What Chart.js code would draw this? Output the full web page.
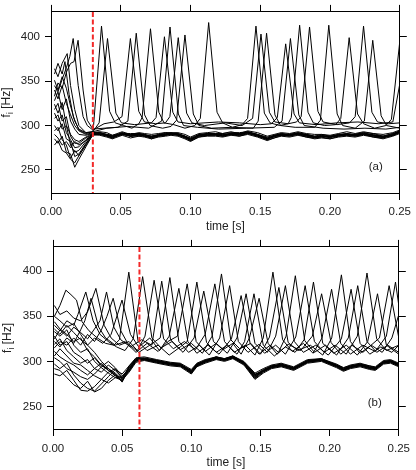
<!DOCTYPE html>
<html>
<head>
<meta charset="utf-8">
<script src="https://cdn.jsdelivr.net/npm/chart.js@4.4.1/dist/chart.umd.min.js"></script>
<style>
  body { margin: 0; background: #fff; }
  canvas { display: block; }
</style>
</head>
<body>
<canvas id="chartA" width="416" height="235"></canvas>
<canvas id="chartB" width="416" height="235"></canvas>
<script>
// time in ms on the x axis, labelled in seconds
const xTicks = [0, 50, 100, 150, 200, 250];
const xTickLabels = ['0.00', '0.05', '0.10', '0.15', '0.20', '0.25'];
const yTicks = [250, 300, 350, 400];
const syncTimeA = 30;
const syncTimeB = 62.5;

// ---- panel (a): traces that lock into the common band, on a shared time grid
const tA = [2.5, 5, 8, 11, 14, 17, 20, 25, 30, 35, 40, 44, 51, 57, 63, 67, 72, 77, 82, 86, 91, 96, 100,
  106, 112, 118, 123, 129, 135, 141, 148, 155, 160, 165, 171, 177, 183, 189, 194, 200, 206, 212, 218, 224, 231, 238, 245, 250];
const a_b1 = [340,330,345,325,312,300,294,290,292, 293,292,289,293,290,292,291,290,291,292,292,292,290,287,291,292,293,291,293,291,294,292,288,290,292,291,293,291,290,290,289,291,293,291,293,291,290,292,295];
const a_b2 = [328,338,318,330,305,296,290,289,291, 292,290,289,291,291,291,290,288,290,292,291,291,288,286,290,291,291,291,292,292,293,290,287,289,291,290,292,290,288,290,288,290,291,290,292,291,288,291,294];
const a_b3 = [324,314,326,300,290,284,282,287,291, 290,289,286,292,288,290,288,287,288,290,292,289,288,283,289,289,291,288,290,290,292,288,285,288,289,290,290,289,286,288,287,288,290,289,290,288,287,289,293];
const a_b4 = [318,325,305,310,288,280,280,286,290, 290,288,286,290,288,288,289,285,288,289,290,289,286,283,287,289,289,288,290,288,291,288,284,286,289,288,290,287,286,287,285,288,289,288,290,287,286,289,292];
const a_b5 = [314,305,312,292,284,275,276,284,290, 289,287,285,289,286,288,287,285,287,288,289,288,285,282,287,288,288,287,289,288,290,287,283,286,288,287,289,287,285,286,285,287,288,287,289,287,285,288,291];
const a_b6 = [308,312,296,300,278,270,272,282,291, 292,290,288,290,290,291,288,288,289,291,290,291,288,285,288,291,290,290,291,291,292,290,286,288,291,289,290,290,288,288,288,289,289,290,292,289,288,291,293];
const a_b7 = [300,294,302,285,282,265,268,280,290, 291,289,287,291,289,289,290,286,290,289,291,290,287,283,290,290,289,289,291,289,293,289,284,289,289,290,291,288,287,289,286,290,290,288,290,290,287,289,294];
const a_b8 = [294,298,284,278,263,272,266,278,289, 290,290,288,290,290,290,288,287,288,290,290,290,286,285,289,289,290,290,290,291,292,288,285,287,290,288,292,289,287,287,287,289,291,289,291,289,286,290,293];
const a_b9 = [285,280,288,270,268,253,262,276,290, 291,288,286,291,288,290,289,288,289,289,291,289,287,284,288,290,290,288,291,289,291,289,286,288,289,289,290,289,287,288,288,288,290,289,290,288,288,289,292];
const a_b10 = [278,283,272,269,262,258,266,279,292, 292,289,288,292,289,291,290,287,289,291,291,290,288,285,289,291,290,289,291,290,293,290,285,289,290,290,291,290,287,289,287,290,290,290,291,289,287,290,294];
const a_b11 = [290,286,278,282,275,282,278,283,290, 290,289,287,290,288,289,288,286,289,290,290,290,287,284,289,289,290,289,290,290,292,289,285,288,290,289,291,288,287,288,287,289,290,289,291,289,287,289,293];

// ---- panel (a): firing traces, [time ms, frequency Hz]
const a_s1 = [[2.5,364],[5,355],[8,370],[11.6,381],[14,345],[17,318],[20,300],[25,292],[30,293],[30.5,300],[36.2,412],[42,316],[46,303],[52,300],[58,297],[63,302],[65.3,309],[71.3,409],[77.3,315],[81,303],[88,301],[96,297],[103,300],[107,308],[113,416],[119,315],[123,303],[130,298],[137,301],[140.9,308],[146.9,412],[152.9,314],[157,303],[164,300],[170,302],[172.2,309],[178.2,413],[184.2,315],[188,303],[196,300],[204,301],[207.7,308],[213.7,399],[219.7,313],[224,302],[232,297],[240,300],[244,307],[250,395]];
const a_s2 = [[2.5,345],[5,338],[8,352],[11,365],[13.5,378],[15.9,398],[19.5,345],[23,310],[26,300],[30,295],[38,302],[45,304],[50.9,310],[56.9,398],[62.9,316],[67,304],[75,302],[82,303],[85.2,310],[91.2,399],[97.2,314],[101,303],[110,300],[125,303],[137,300],[144.5,308],[150.5,403],[156.5,315],[160.5,304],[170,302],[176,304],[179.3,310],[185.3,411],[191.3,316],[195,304],[205,301],[214,303],[218,310],[224,412],[230,315],[234,304],[242,302],[250,303]];
const a_s3 = [[2.5,333],[5,348],[8,342],[11,360],[14,370],[16.5,372],[19.4,396],[23,340],[26,306],[30,296],[38,297],[48,298],[55.1,305],[61.1,404],[67.1,312],[71,300],[80,297],[86,299],[90,306],[96,402],[102,313],[106,300],[115,297],[130,298],[145,297],[148.5,305],[154.5,404],[160.5,312],[164.5,300],[175,298],[189,298],[193.1,306],[199.1,413],[205.1,313],[209,300],[218,297],[224.6,305],[230.6,396],[236.6,311],[240.5,300],[250,297]];
const a_s4 = [[2.5,358],[5,370],[8,358],[10,372],[13,335],[16,310],[20,295],[25,291],[30,293],[34.5,303],[40.5,398],[46.5,314],[50.5,303],[60,301],[72,303],[75.3,309],[81.3,400],[87.3,315],[91,304],[100,302],[120,304],[135,303],[150,301],[158,302],[162.2,309],[168.2,392],[174.2,313],[178,303],[190,301],[205,303],[220,304],[235,302],[245,304],[250,347]];
const a_s5 = [[2.5,351],[5,340],[8,355],[11,342],[14,322],[17,305],[20,296],[25,292],[30,293],[40,297],[55,299],[70,297],[79.3,305],[85.3,411],[91.3,313],[95,300],[105,298],[120,296],[140,297],[160,298],[165.6,305],[171.6,398],[177.6,312],[181.5,300],[195,297],[210,296],[225,297],[240,296],[250,298]];

// ---- panel (b): band traces on a shared time grid
const tB = [1, 5, 10, 15, 20, 25, 30, 35, 40, 45, 50, 55, 60, 66, 75, 85, 92, 100, 104, 110,
  118, 124, 130, 138, 146, 152, 158, 165, 174, 184, 194, 205, 210, 215, 222, 229, 233, 239, 244, 250];
const b_b1 = [350,345,338,342,330,318,310,300,292,285,281, 294,303,304,301,298,297,290,297,301,305,303,306,299,285,291,295,297,293,301,303,296,293,295,297,295,293,300,301,297];
const b_b2 = [344,336,330,322,326,312,305,296,290,284,279, 290,301,302,299,296,296,287,295,299,303,301,304,297,282,289,293,295,291,299,301,294,290,293,295,292,291,298,299,295];
const b_b3 = [333,328,335,318,310,314,300,293,287,282,283, 293,302,303,301,297,296,289,296,300,304,302,305,299,284,290,295,296,292,300,302,295,291,294,296,293,292,299,300,296];
const b_b4 = [328,318,322,310,305,298,304,295,292,287,280, 289,300,302,299,296,295,287,295,299,303,301,304,297,281,288,293,295,291,299,301,294,290,293,295,292,291,298,299,295];
const b_b5 = [319,325,312,305,298,302,292,288,296,290,282, 291,301,303,300,297,296,288,296,300,304,302,305,298,283,289,294,296,292,300,302,295,291,294,296,293,292,299,300,296];
const b_b6 = [311,305,300,296,290,285,292,298,290,286,278, 295,303,303,301,297,295,290,296,301,303,303,304,299,286,289,295,295,293,299,303,295,292,294,297,293,293,299,301,296];
const b_b7 = [304,300,292,288,283,280,286,294,300,293,284, 290,301,302,300,298,297,288,297,300,305,302,306,298,282,290,294,297,292,301,302,296,291,295,296,294,292,300,300,297];
const b_b8 = [297,292,298,285,276,270,267,275,283,291,286, 295,304,305,302,299,298,291,298,302,305,303,306,300,287,292,296,298,294,302,303,297,293,296,298,295,294,301,302,298];
const b_b9 = [286,284,290,279,268,267,272,280,276,282,279, 288,299,301,298,295,294,286,294,298,302,300,303,296,280,287,292,294,290,298,300,293,289,292,294,291,290,297,298,294];
const b_b10 = [292,290,282,274,270,278,266,270,279,285,277, 292,302,302,299,297,295,288,295,300,303,302,304,298,284,289,293,296,292,300,301,295,291,293,296,293,292,298,300,296];
const b_b11 = [306,314,306,298,296,290,284,280,288,292,281, 293,301,303,301,298,297,289,297,301,304,303,305,299,285,290,294,297,293,301,302,296,292,295,297,294,293,300,301,297];

// ---- panel (b): firing traces, [time ms, frequency Hz]
const b_s1 = [[1,350],[5,362],[9.3,379],[13,374],[17,368],[21,344],[26,334],[32,326],[38,320],[44,318],[48,324],[54.8,399],[61.5,322],[68,312],[76,318],[84,307],[92,316],[97,322],[104,388],[111,321],[118,310],[126,318],[133,308],[138.5,322],[145.3,375],[152,318],[160,306],[168,316],[175,310],[181.5,324],[188.3,388],[195,320],[203,309],[212,318],[220,307],[227.5,322],[234.6,375],[241,318],[250,308]];
const b_s2 = [[1,340],[5,334],[10,345],[15,340],[18,352],[23.7,377],[29,345],[34,330],[40,322],[46,316],[52,312],[58,325],[64.8,394],[71.5,326],[78,315],[86,322],[94,310],[102,326],[109,378],[116,322],[123,313],[130,320],[136,308],[142,326],[149,370],[155.5,320],[162,308],[170,319],[179,312],[187.5,328],[194.2,375],[201,321],[208,308],[216,318],[224,310],[236,326],[243,384],[250,326]];
const b_s3 = [[1,362],[5,352],[10,356],[15,348],[20,345],[25,355],[31,381],[37,340],[42,326],[48,318],[55,322],[61,312],[66.5,328],[73.1,390],[80,325],[87,314],[95,322],[103,313],[110,330],[117,386],[124,322],[131,310],[139,318],[146,307],[152,326],[159,399],[166,324],[173,311],[181,320],[188,309],[194.5,326],[201.4,380],[208,320],[215,308],[224,318],[233,311],[241,328],[247.6,388],[250,362]];
const b_s4 = [[1,325],[5,335],[10,328],[15,338],[20,332],[25,325],[30,336],[34,345],[38.7,377],[44,338],[49,324],[56,316],[64,324],[71.5,318],[78.6,389],[85,324],[92,313],[100,320],[108,309],[115,328],[121.8,397],[128.5,324],[135,314],[143,320],[150,308],[156.5,327],[163.3,382],[170,321],[177,312],[186,318],[195,307],[201.5,326],[208.5,396],[215,322],[222,309],[230,318],[238,310],[245,326],[250,352]];
const b_s5 = [[1,315],[5,322],[10,318],[15,326],[20,318],[25,330],[30,322],[35,335],[39,350],[43.5,370],[49,334],[54,320],[62,310],[70,318],[77.5,326],[84.5,393],[91,322],[98,310],[106,318],[113,307],[120.5,326],[127.7,384],[134,322],[141,310],[149,319],[155,310],[161,328],[168,384],[174.5,322],[181,310],[190,318],[199,307],[208.5,325],[215.5,380],[222,320],[229,308],[237,316],[245,310],[250,318]];
const b_s6 = [[1,336],[5,330],[10,340],[15,332],[20,324],[25,318],[30,326],[36,320],[42,330],[49.9,368],[56,330],[62,316],[70,326],[77,312],[84,328],[91,381],[97.5,322],[104,309],[112,318],[120,308],[129,325],[136,373],[142.5,320],[149,308],[157,318],[163,310],[168.5,328],[175.2,395],[182,323],[189,310],[197,318],[205,307],[213.5,326],[220.3,384],[227,322],[234,310],[242,318],[250,310]];
const b_s7 = [[1,322],[5,316],[10,326],[15,320],[20,335],[23,345],[27.5,370],[33,338],[38,326],[45,318],[52,322],[60,310],[68,320],[76,311],[83,322],[90,328],[97,386],[103.5,322],[110,311],[118,320],[126,309],[133,326],[139.6,375],[146,320],[153,309],[161,318],[168,308],[175.5,327],[182.3,384],[189,322],[196,310],[204,318],[212,308],[220,328],[227,398],[234,325],[241,312],[250,318]];

const FONT = '"Liberation Sans", Arial, Helvetica, sans-serif';
Chart.defaults.font.family = FONT;

function gridSeries(times, values) {
    return values.map((v, i) => ({ x: times[i], y: v }));
}

function pairSeries(pairs) {
    return pairs.map(p => ({ x: p[0], y: p[1] }));
}

function traceDataset(points) {
    return {
        data: points,
        borderColor: '#000',
        borderWidth: 1,
        pointRadius: 0,
        tension: 0,
        fill: false
    };
}

function overlayPlugin(syncTime, tag, titleX) {
    return {
        id: 'overlay',
        afterDatasetsDraw(chart) {
            const { ctx, chartArea: a, scales } = chart;
            const x = scales.x.getPixelForValue(syncTime);
            ctx.save();
            ctx.strokeStyle = '#f22a2a';
            ctx.lineWidth = 2;
            ctx.setLineDash([5, 2.5]);
            ctx.beginPath();
            ctx.moveTo(x, a.top);
            ctx.lineTo(x, a.bottom);
            ctx.stroke();
            ctx.setLineDash([]);

            ctx.fillStyle = '#222';
            ctx.font = '11.5px ' + FONT;
            ctx.textAlign = 'center';
            ctx.textBaseline = 'middle';
            ctx.fillText(tag, a.right - 24, a.bottom - 26);

            // y title: f with subscript i, rotated
            const big = '12px ' + FONT, small = '8.5px ' + FONT;
            ctx.font = big;
            const wf = ctx.measureText('f').width;
            const wr = ctx.measureText(' [Hz]').width;
            ctx.font = small;
            const wi = ctx.measureText('i').width;
            ctx.translate(titleX, (a.top + a.bottom) / 2);
            ctx.rotate(-Math.PI / 2);
            ctx.textAlign = 'left';
            ctx.textBaseline = 'alphabetic';
            const x0 = -(wf + wi + wr) / 2;
            ctx.font = big;
            ctx.fillText('f', x0, 0);
            ctx.font = small;
            ctx.fillText('i', x0 + wf, 3);
            ctx.font = big;
            ctx.fillText(' [Hz]', x0 + wf + wi, 0);
            ctx.restore();
        }
    };
}

function buildScales(box, yMin, yMax, labelPad, titlePad) {
    const tickFont = { family: FONT, size: 11.5 };
    const frame = { display: true, color: '#000', width: 1 };
    const marks = (len) => ({ drawOnChartArea: false, drawTicks: true, tickLength: len, color: '#000', tickColor: '#000' });
    const setX = s => { s.ticks = xTicks.map(v => ({ value: v })); };
    const setY = s => { s.ticks = yTicks.map(v => ({ value: v })); };
    return {
        x: {
            type: 'linear', position: 'bottom', min: 0, max: 250,
            afterBuildTicks: setX,
            afterFit: s => { s.height = box.bottom; },
            ticks: { font: tickFont, color: '#222', padding: labelPad, maxRotation: 0, autoSkip: false,
                     callback: (v, i) => xTickLabels[i] },
            grid: marks(7),
            border: frame,
            title: { display: true, text: 'time [s]', font: { family: FONT, size: 12 }, color: '#222',
                     padding: { top: 0, bottom: titlePad } }
        },
        x2: {
            type: 'linear', position: 'top', min: 0, max: 250,
            afterBuildTicks: setX,
            afterFit: s => { s.height = box.top; },
            ticks: { display: false },
            grid: marks(7),
            border: frame
        },
        y: {
            type: 'linear', position: 'left', min: yMin, max: yMax,
            afterBuildTicks: setY,
            afterFit: s => { s.width = box.left; },
            ticks: { font: tickFont, color: '#222', padding: 5, autoSkip: false },
            grid: marks(6),
            border: frame
        },
        y2: {
            type: 'linear', position: 'right', min: yMin, max: yMax,
            afterBuildTicks: setY,
            afterFit: s => { s.width = box.right; },
            ticks: { display: false },
            grid: marks(7),
            border: frame
        }
    };
}

function buildPanel(canvasId, series, box, yMin, yMax, syncTime, tag, titleX, labelPad, titlePad) {
    const ctx = document.getElementById(canvasId).getContext('2d');
    return new Chart(ctx, {
        type: 'line',
        data: { datasets: series.map(traceDataset) },
        options: {
            responsive: false,
            animation: false,
            events: [],
            layout: { padding: 0 },
            plugins: { legend: { display: false }, tooltip: { enabled: false } },
            scales: buildScales(box, yMin, yMax, labelPad, titlePad)
        },
        plugins: [overlayPlugin(syncTime, tag, titleX)]
    });
}

const seriesA = [a_b1, a_b2, a_b3, a_b4, a_b5, a_b6, a_b7, a_b8, a_b9, a_b10, a_b11]
    .map(v => gridSeries(tA, v))
    .concat([a_s1, a_s2, a_s3, a_s4, a_s5].map(pairSeries));

const seriesB = [b_b1, b_b2, b_b3, b_b4, b_b5, b_b6, b_b7, b_b8, b_b9, b_b10, b_b11]
    .map(v => gridSeries(tB, v))
    .concat([b_s1, b_s2, b_s3, b_s4, b_s5, b_s6, b_s7].map(pairSeries));

buildPanel('chartA', seriesA, { left: 51, right: 12, top: 7, bottom: 42 }, 224, 428, syncTimeA, '(a)', 10, 5, 1);
buildPanel('chartB', seriesB, { left: 53, right: 11, top: 10, bottom: 41 }, 225, 427, syncTimeB, '(b)', 11, 6, 0);
</script>
</body>
</html>
